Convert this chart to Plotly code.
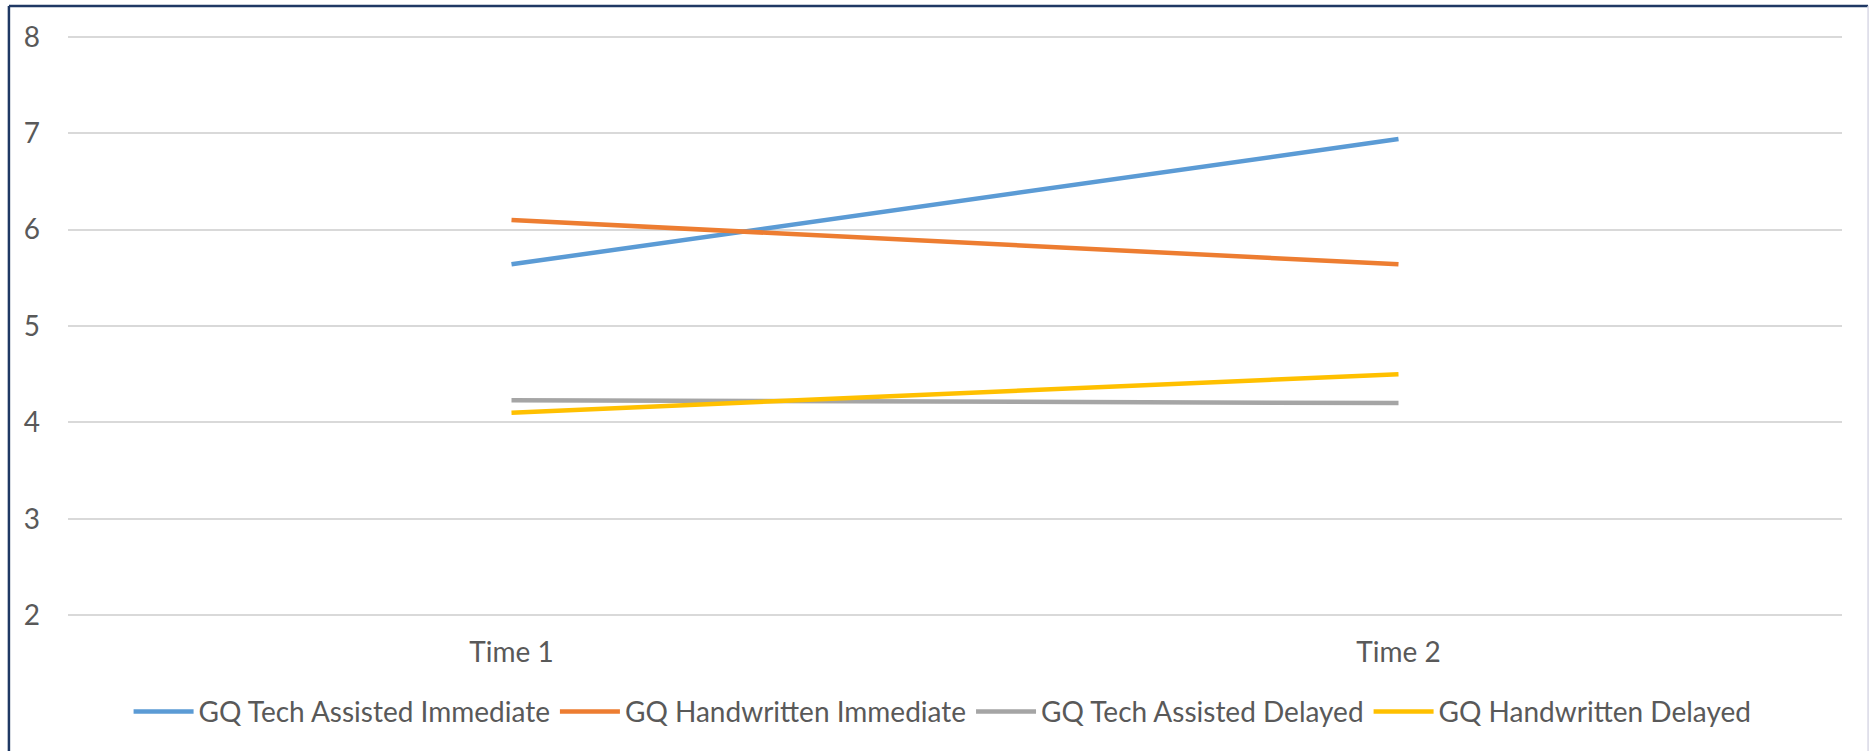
import plotly.graph_objects as go

categories = ["Time 1", "Time 2"]
series_names = [
    "GQ Tech Assisted Immediate",
    "GQ Handwritten Immediate",
    "GQ Tech Assisted Delayed",
    "GQ Handwritten Delayed",
]
tech_immediate = [5.64, 6.94]
hand_immediate = [6.10, 5.64]
tech_delayed = [4.23, 4.20]
hand_delayed = [4.10, 4.50]
colors = ["#5B9BD5", "#ED7D31", "#A5A5A5", "#FFC000"]
y_ticks = [2, 3, 4, 5, 6, 7, 8]

FONT = "Lato"
TXT = "#595959"
FS = 28

fig = go.Figure()
for name, vals, col in zip(series_names,
                           [tech_immediate, hand_immediate, tech_delayed, hand_delayed],
                           colors):
    fig.add_trace(go.Scatter(
        x=categories, y=vals, name=name, mode="lines",
        line=dict(color=col, width=4.5),
    ))

# plot area: x 68..1842, y 35..617
fig.update_layout(
    width=1870, height=751,
    margin=dict(l=68, r=28, t=35, b=134, autoexpand=False),
    paper_bgcolor="white", plot_bgcolor="white",
    font=dict(family=FONT, size=FS, color=TXT),
    showlegend=True,
    legend=dict(
        orientation="h", x=0.493, xanchor="center", y=-0.163, yanchor="middle",
        font=dict(family=FONT, size=FS, color=TXT),
        bgcolor="rgba(0,0,0,0)", tracegroupgap=0, itemwidth=60,
    ),
    xaxis=dict(
        type="category", showgrid=False, showline=False, zeroline=False,
        ticks="outside", ticklen=10, tickcolor="rgba(0,0,0,0)",
        tickfont=dict(family=FONT, size=FS, color=TXT),
        range=[-0.5, 1.5], automargin=False,
    ),
    yaxis=dict(
        range=[1.98, 8.02], tickvals=y_ticks, showgrid=True,
        gridcolor="#D9D9D9", gridwidth=1.5, zeroline=False, showline=False,
        ticks="", ticklabelstandoff=27, automargin=False,
        tickfont=dict(family=FONT, size=FS, color=TXT),
    ),
    shapes=[
        dict(type="line", xref="paper", yref="paper", x0=-0.0333, x1=1.0147, y0=1.0498, y1=1.0498,
             line=dict(color="#1F3864", width=2.5)),
        dict(type="line", xref="paper", yref="paper", x0=-0.0333, x1=-0.0333, y0=1.0498, y1=-0.25,
             line=dict(color="#1F3864", width=2.5)),
        dict(type="line", xref="paper", yref="paper", x0=1.0147, x1=1.0147, y0=1.0498, y1=-0.25,
             line=dict(color="#D9D9E6", width=1.5)),
    ],
)

fig.write_html("out.html", config={"displayModeBar": False},
               post_script="document.body.style.margin='0';")
